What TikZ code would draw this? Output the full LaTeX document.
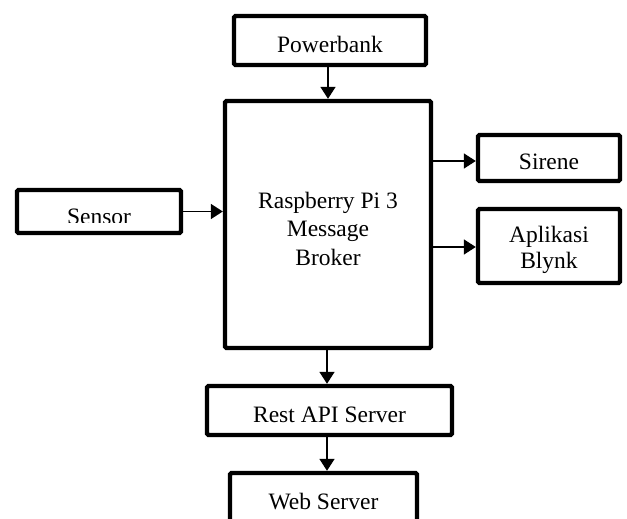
\documentclass[tikz,border=0pt]{standalone}
\usepackage{fontspec}
\setmainfont{Liberation Serif}
\usepackage{tikz}
\usetikzlibrary{arrows.meta}

\begin{document}
\begin{tikzpicture}[
        x=1pt, y=-1pt,
        every node/.style={font=\fontsize{23.5}{27}\selectfont},
        block/.style={
            draw,
            line width=4.4pt,
            rounded corners=1.5pt,
            inner sep=0pt
        },
        txt/.style={align=center, yshift=-4pt},
        arrow/.style={-{Triangle[length=12pt,width=15pt]}, line width=1.7pt}
    ]
    \useasboundingbox (0,0) rectangle (627,519);

    % =========================
    % Blocks
    % =========================
    \node[block, minimum width=192pt, minimum height=49pt,
        label={[txt]center:Powerbank}] (power) at (330,40.5) {};
    \node[block, minimum width=206pt, minimum height=247pt,
        label={[txt, font=\fontsize{23.5}{28.5}\selectfont]center:Raspberry Pi 3\\Message\\Broker}] (rpi) at (328,224.5) {};
    \node[block, minimum width=164pt, minimum height=43pt] (sensor) at (99,211.5) {};
    \node[block, minimum width=142pt, minimum height=46pt,
        label={[txt]center:Sirene}] (sirene) at (549,158) {};
    \node[block, minimum width=142pt, minimum height=74pt,
        label={[txt, font=\fontsize{23.5}{26}\selectfont]center:Aplikasi\\Blynk}] (blynk) at (549,246) {};
    \node[block, minimum width=245pt, minimum height=49pt,
        label={[txt]center:Rest API Server}] (rest) at (329.5,410.5) {};
    \node[block, minimum width=187pt, minimum height=49pt,
        label={[txt]center:Web Server}] (web) at (323.5,497.5) {};

    % Sensor label is cut off at the bottom
    \begin{scope}
        \clip (15,188) rectangle (183,222);
        \node[anchor=base] (sensortext) at (99,224.6) {Sensor};
    \end{scope}

    % =========================
    % Connections
    % =========================
    \draw[arrow] (power.south -| 328,0) -- (rpi.north -| 328,0);
    \draw[arrow] (sensor.east) -- (sensor.east -| rpi.west);
    \draw[arrow] (rpi.east |- 0,161) -- (sirene.west |- 0,161);
    \draw[arrow] (rpi.east |- 0,247) -- (blynk.west |- 0,247);
    \draw[arrow] (rpi.south -| 327,0) -- (rest.north -| 327,0);
    \draw[arrow] (rest.south -| 327,0) -- (web.north -| 327,0);

\end{tikzpicture}
\end{document}
